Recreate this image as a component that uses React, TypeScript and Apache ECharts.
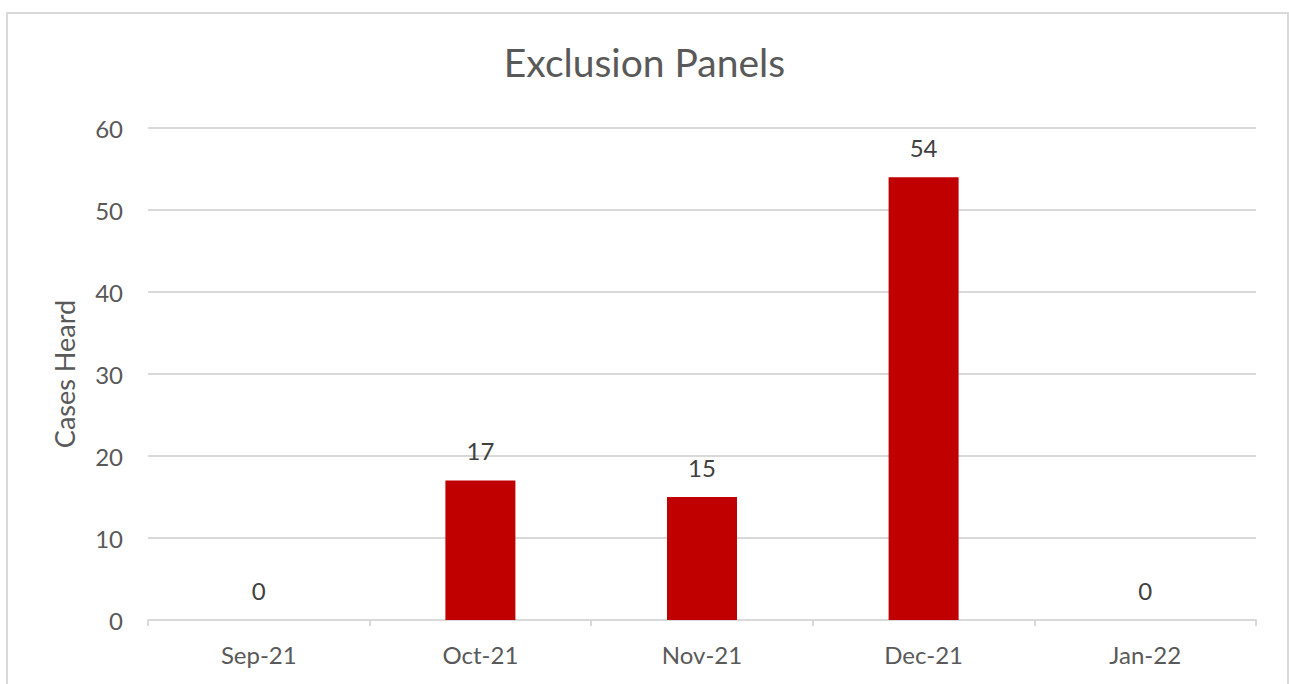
import React, { useEffect, useRef } from "react";
import * as echarts from "echarts";

const categories = ["Sep-21", "Oct-21", "Nov-21", "Dec-21", "Jan-22"];
const casesHeard = [0, 17, 15, 54, 0];
const yTicks = { min: 0, max: 60, interval: 10 };

export default function App() {
  const ref = useRef<HTMLDivElement>(null);
  useEffect(() => {
    if (!ref.current) return;
    const chart = echarts.init(ref.current, null, { renderer: "svg" });
    const font = "Lato, 'Open Sans', sans-serif";
    chart.setOption({
      animation: false,
      backgroundColor: "#ffffff",
      textStyle: { fontFamily: font },
      title: {
        text: "Exclusion Panels",
        left: "center",
        top: 37,
        textStyle: { fontFamily: font, fontSize: 39, fontWeight: "normal", color: "#595959" },
      },
      graphic: [
        {
          type: "rect",
          shape: { x: 7, y: 13, width: 1281, height: 700 },
          style: { fill: "none", stroke: "#d9d9d9", lineWidth: 2 },
          silent: true,
        },
      ],
      grid: { left: 148, right: 33, top: 128, bottom: 64, containLabel: false },
      xAxis: {
        type: "category",
        data: categories,
        axisLine: { lineStyle: { color: "#d9d9d9", width: 2 } },
        axisTick: { show: true, length: 6, lineStyle: { color: "#d9d9d9", width: 2 } },
        axisLabel: { color: "#595959", fontSize: 24, margin: 22, fontFamily: font },
      },
      yAxis: {
        type: "value",
        min: yTicks.min,
        max: yTicks.max,
        interval: yTicks.interval,
        name: "Cases Heard",
        nameLocation: "middle",
        nameGap: 70,
        nameTextStyle: { color: "#595959", fontSize: 27, fontFamily: font },
        axisLine: { show: false },
        axisTick: { show: false },
        axisLabel: { color: "#595959", fontSize: 24, margin: 25, fontFamily: font },
        splitLine: { lineStyle: { color: "#d9d9d9", width: 2 } },
      },
      series: [
        {
          type: "bar",
          data: casesHeard,
          barWidth: 70,
          itemStyle: { color: "#c00000" },
          label: {
            show: true,
            position: "top",
            distance: 18,
            color: "#404040",
            fontSize: 24,
            fontFamily: font,
          },
        },
      ],
    });
    return () => chart.dispose();
  }, []);
  return (
    <div
      ref={ref}
      style={{ position: "absolute", left: 0, top: 0, width: 1289, height: 684 }}
    />
  );
}
